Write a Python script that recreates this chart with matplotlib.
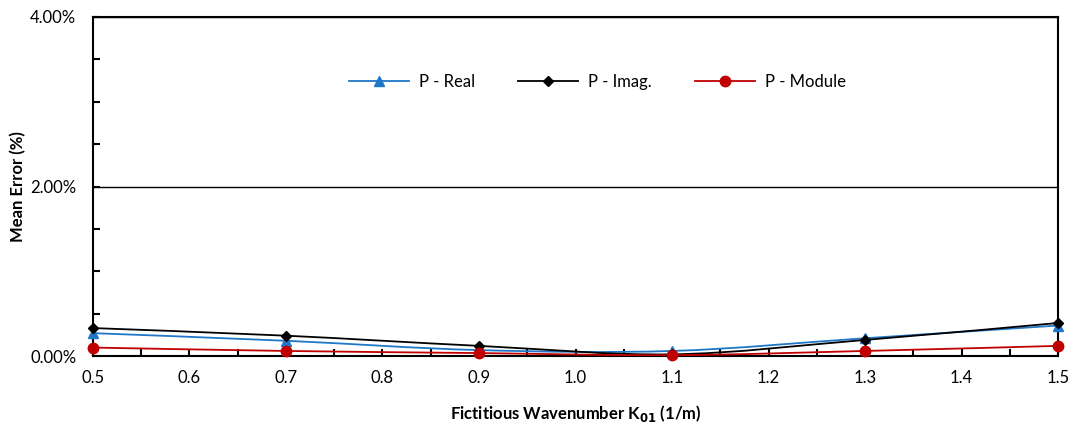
import matplotlib
matplotlib.use("Agg")
import matplotlib.pyplot as plt
from matplotlib.path import Path
from matplotlib.patches import PathPatch
from matplotlib.lines import Line2D
from matplotlib.ticker import MultipleLocator, FuncFormatter
import numpy as np

plt.rcParams['font.family'] = ['Lato', 'DejaVu Sans']

k01 = [0.5, 0.7, 0.9, 1.1, 1.3, 1.5]
p_real = [0.27, 0.18, 0.07, 0.06, 0.21, 0.36]
p_imag = [0.33, 0.24, 0.12, 0.02, 0.19, 0.39]
p_module = [0.10, 0.06, 0.035, 0.01, 0.06, 0.12]

series = [
    ("P - Real", p_real, "#1F77C8", "^", 7),
    ("P - Imag.", p_imag, "#000000", "D", 5.5),
    ("P - Module", p_module, "#C00000", "o", 7.5),
]

fig = plt.figure(figsize=(10.75, 4.3), dpi=100)
ax = fig.add_axes([0.0865, 0.172, 0.8977, 0.7885])


def smooth_path(xs, ys, t=1/6):
    xs = np.asarray(xs, float); ys = np.asarray(ys, float)
    n = len(xs)
    verts = [(xs[0], ys[0])]
    codes = [Path.MOVETO]
    for i in range(n - 1):
        x0, y0 = (xs[i-1], ys[i-1]) if i > 0 else (xs[i], ys[i])
        x3, y3 = (xs[i+2], ys[i+2]) if i + 2 < n else (xs[i+1], ys[i+1])
        c1 = (xs[i] + (xs[i+1] - x0) * t, ys[i] + (ys[i+1] - y0) * t)
        c2 = (xs[i+1] - (x3 - xs[i]) * t, ys[i+1] - (y3 - ys[i]) * t)
        verts += [c1, c2, (xs[i+1], ys[i+1])]
        codes += [Path.CURVE4] * 3
    return Path(verts, codes)


handles = []
for name, vals, col, mk, ms in series:
    ax.add_patch(PathPatch(smooth_path(k01, vals), facecolor='none',
                           edgecolor=col, lw=1.3, zorder=3))
    ax.plot(k01, vals, linestyle='none', marker=mk, color=col,
            markersize=ms, zorder=4, clip_on=False)
    handles.append(Line2D([], [], color=col, lw=1.3, marker=mk, markersize=ms))

ax.set_xlim(0.5, 1.5)
ax.set_ylim(0, 4)
ax.xaxis.set_major_locator(MultipleLocator(0.1))
ax.xaxis.set_minor_locator(MultipleLocator(0.05))
ax.yaxis.set_major_locator(MultipleLocator(2))
ax.yaxis.set_minor_locator(MultipleLocator(0.5))
ax.xaxis.set_major_formatter(FuncFormatter(lambda v, p: f"{v:.1f}"))
ax.yaxis.set_major_formatter(FuncFormatter(lambda v, p: f"{v:.2f}%"))
ax.tick_params(axis='both', which='both', direction='in', width=1.5,
               labelsize=12, colors='black')
ax.tick_params(axis='both', which='major', length=5)
ax.tick_params(axis='both', which='minor', length=5)
ax.tick_params(axis='x', which='both', pad=10)
ax.tick_params(axis='y', which='both', pad=12)
ax.grid(axis='y', which='major', color='black', lw=1)
for sp in ax.spines.values():
    sp.set_linewidth(1.5)

ax.set_ylabel("Mean Error (%)", fontsize=12, fontweight='bold', labelpad=3)
ax.set_xlabel(r"Fictitious Wavenumber K$_{\mathbf{01}}$ (1/m)", fontsize=12,
              fontweight='bold', labelpad=12)

ax.legend(handles, [s[0] for s in series], loc='center',
          bbox_to_anchor=(0.523, 0.808), ncol=3, frameon=False,
          fontsize=12, handlelength=3.6, columnspacing=2.6, handletextpad=0.6)

fig.savefig("out.png", dpi=100)
